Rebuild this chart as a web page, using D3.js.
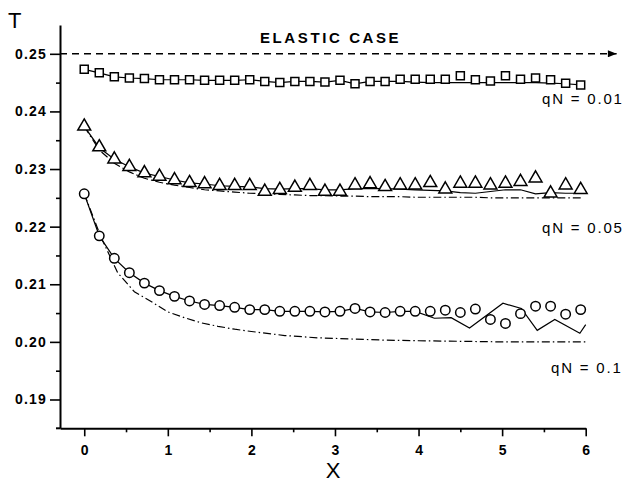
<!DOCTYPE html>
<html>
<head>
<meta charset="utf-8">
<script src="https://cdn.jsdelivr.net/npm/d3@7"></script>
<style>
  body { margin: 0; background: #fff; }
  text { font-family: "Liberation Sans", Arial, sans-serif; fill: #000; }
</style>
</head>
<body>
<div id="grafico"></div>
<script>
// x positions of the markers
const puntosX = [0, 0.18, 0.36, 0.54, 0.72, 0.90, 1.08, 1.26, 1.44, 1.62, 1.80, 1.98, 2.16, 2.34, 2.52, 2.70, 2.88,
    3.06, 3.24, 3.42, 3.60, 3.78, 3.96, 4.14, 4.32, 4.50, 4.68, 4.86, 5.04, 5.22, 5.40, 5.58, 5.76, 5.94];

// qN = 0.01 (squares)
const cuadrados = [0.2473, 0.2467, 0.2460, 0.2458, 0.2457, 0.2455, 0.2455, 0.2455, 0.2454, 0.2454, 0.2454,
    0.2455, 0.2452, 0.2450, 0.2452, 0.2452, 0.2451, 0.2454, 0.2448, 0.2452, 0.2452, 0.2456, 0.2456,
    0.2456, 0.2456, 0.2462, 0.2455, 0.2453, 0.2462, 0.2456, 0.2458, 0.2455, 0.2449, 0.2446];
const lineaCuadrados = [0.2473, 0.2467, 0.2460, 0.2458, 0.2457, 0.2455, 0.2455, 0.2455, 0.2454, 0.2454, 0.2454,
    0.2455, 0.2452, 0.2450, 0.2452, 0.2452, 0.2451, 0.2454, 0.2448, 0.2452, 0.2452, 0.2452, 0.2451,
    0.2450, 0.2450, 0.2450, 0.2450, 0.2450, 0.2450, 0.2450, 0.2450, 0.2449, 0.2448, 0.2446];

// qN = 0.05 (triangles)
const triangulos = [0.2374, 0.2338, 0.2317, 0.2304, 0.2293, 0.2287, 0.2281, 0.2276, 0.2274, 0.2271, 0.2271,
    0.2271, 0.2261, 0.2264, 0.2268, 0.2271, 0.2261, 0.2261, 0.2272, 0.2274, 0.2269, 0.2272, 0.2272,
    0.2276, 0.2265, 0.2275, 0.2275, 0.2272, 0.2275, 0.2278, 0.2284, 0.2258, 0.2272, 0.2264];
const lineaTriangulos = [0.2374, 0.2337, 0.2317, 0.2304, 0.2293, 0.2287, 0.2281, 0.2276, 0.2274, 0.2271, 0.2270,
    0.2269, 0.2266, 0.2265, 0.2266, 0.2266, 0.2264, 0.2264, 0.2266, 0.2266, 0.2266, 0.2265, 0.2264,
    0.2263, 0.2262, 0.2259, 0.2258, 0.2261, 0.2264, 0.2264, 0.2257, 0.2259, 0.2258, 0.2258];
const teoriaTriangulos = [0.2374, 0.2333, 0.2310, 0.2295, 0.2284, 0.2277, 0.2272, 0.2268, 0.2264, 0.2262, 0.2260,
    0.2258, 0.2257, 0.2256, 0.2255, 0.2254, 0.2254, 0.2253, 0.2253, 0.2252, 0.2252, 0.2252, 0.2251,
    0.2251, 0.2251, 0.2251, 0.2251, 0.2250, 0.2250, 0.2250, 0.2250, 0.2250, 0.2250, 0.2250];

// qN = 0.1 (circles)
const circulos = [0.2257, 0.2184, 0.2145, 0.2120, 0.2102, 0.2089, 0.2079, 0.2071, 0.2065, 0.2063, 0.2060,
    0.2056, 0.2056, 0.2053, 0.2053, 0.2053, 0.2052, 0.2053, 0.2058, 0.2052, 0.2051, 0.2053, 0.2053,
    0.2053, 0.2055, 0.2051, 0.2057, 0.2039, 0.2032, 0.2049, 0.2062, 0.2062, 0.2048, 0.2056];
const lineaCirculosX = [0, 0.18, 0.36, 0.54, 0.72, 0.90, 1.08, 1.26, 1.44, 1.62, 1.80, 1.98, 2.16, 2.34, 2.52,
    2.70, 2.88, 3.06, 3.24, 3.42, 3.60, 3.78, 3.96, 4.19, 4.39, 4.61, 5.01, 5.23, 5.42, 5.63, 5.93, 6.00];
const lineaCirculos = [0.2257, 0.2184, 0.2145, 0.2120, 0.2102, 0.2089, 0.2079, 0.2071, 0.2065, 0.2063, 0.2060,
    0.2056, 0.2056, 0.2053, 0.2053, 0.2053, 0.2052, 0.2053, 0.2058, 0.2052, 0.2051, 0.2053, 0.2053,
    0.2041, 0.2042, 0.2024, 0.2067, 0.2058, 0.2020, 0.2039, 0.2015, 0.2030];
const teoriaCirculosX = [0, 0.2, 0.4, 0.6, 0.8, 1.0, 1.2, 1.4, 1.6, 1.8, 2.0, 2.4, 2.8, 3.2, 3.6, 4.0, 4.5, 5.0, 5.5, 6.0];
const teoriaCirculos = [0.2257, 0.2182, 0.2120, 0.2087, 0.2070, 0.2052, 0.2042, 0.2033, 0.2027, 0.2022, 0.2018,
    0.2011, 0.2007, 0.2005, 0.2003, 0.2002, 0.2001, 0.2000, 0.2000, 0.2000];

const elastico = 0.25;
const ticksX = [0, 1, 2, 3, 4, 5, 6];
const ticksXmenor = [0.5, 1.5, 2.5, 3.5, 4.5, 5.5];
const ticksY = [0.19, 0.20, 0.21, 0.22, 0.23, 0.24, 0.25];
const ticksYmenor = [0.195, 0.205, 0.215, 0.225, 0.235, 0.245];

function crearGrafico() {
    const x = d3.scaleLinear().domain([-0.29, 6]).range([60, 585.7]);
    const y = d3.scaleLinear().domain([0.185, 0.255]).range([428.3, 25]);

    const svg = d3.select("#grafico")
        .append("svg")
        .attr("width", 631)
        .attr("height", 489);

    svg.append("defs").append("marker")
        .attr("id", "flecha")
        .attr("viewBox", "0 0 10 8")
        .attr("refX", 10).attr("refY", 4)
        .attr("markerWidth", 10).attr("markerHeight", 7)
        .attr("markerUnits", "userSpaceOnUse")
        .attr("orient", "auto")
        .append("path")
        .attr("d", "M0,0L10,4L0,8Z")
        .attr("fill", "#000");

    // axes
    const ejeY = svg.append("g").attr("transform", "translate(60,0)");
    ejeY.call(d3.axisLeft(y).tickValues(ticksY).tickSize(10).tickSizeOuter(0).tickFormat(d3.format(".2f")));
    ejeY.append("g").call(d3.axisLeft(y).tickValues(ticksYmenor).tickSize(4).tickFormat(""))
        .select(".domain").remove();

    const ejeX = svg.append("g").attr("transform", "translate(0,428.3)");
    ejeX.call(d3.axisBottom(x).tickValues(ticksX).tickSize(8).tickSizeOuter(0).tickPadding(9)
        .tickFormat(d3.format("d")));
    ejeX.append("g").call(d3.axisBottom(x).tickValues(ticksXmenor).tickSize(4).tickFormat(""))
        .select(".domain").remove();
    ejeX.append("line").attr("x1", 56).attr("x2", 60).attr("stroke", "#000").attr("stroke-width", 2);

    svg.selectAll(".domain").attr("stroke-width", 2);
    svg.selectAll(".tick line").attr("stroke-width", 1.6);
    ejeY.selectAll(".tick text")
        .attr("x", -13)
        .style("font-size", "14px").style("font-weight", "bold").style("letter-spacing", "1.2px");
    ejeX.selectAll(".tick text")
        .style("font-size", "14px").style("font-weight", "bold");

    svg.append("text").attr("x", 8).attr("y", 28).text("T").style("font-size", "22px");
    svg.append("text").attr("x", 333).attr("y", 478).attr("text-anchor", "middle")
        .text("X").style("font-size", "22px");

    // elastic case
    svg.append("line")
        .attr("x1", x(-0.29)).attr("x2", x(6.37))
        .attr("y1", y(elastico)).attr("y2", y(elastico))
        .attr("stroke", "#000").attr("stroke-width", 1.4)
        .attr("stroke-dasharray", "7,5")
        .attr("marker-end", "url(#flecha)");
    svg.append("text").attr("x", 260).attr("y", 43).text("ELASTIC CASE")
        .style("font-size", "15px").style("font-weight", "bold").style("letter-spacing", "2.6px");

    const etiquetas = [["qN = 0.01", 542, 104], ["qN = 0.05", 542, 233], ["qN = 0.1", 551, 373]];
    svg.selectAll(".etiqueta").data(etiquetas).enter().append("text")
        .attr("class", "etiqueta")
        .attr("x", d => d[1]).attr("y", d => d[2])
        .text(d => d[0])
        .style("font-size", "15px").style("letter-spacing", "1.8px");

    const linea = d3.line().x(d => x(d[0])).y(d => y(d[1]));
    const dibujarLinea = (xs, ys, dash) => svg.append("path")
        .datum(xs.map((v, i) => [v, ys[i]]))
        .attr("d", linea)
        .attr("fill", "none")
        .attr("stroke", "#000")
        .attr("stroke-width", 1.2)
        .attr("stroke-dasharray", dash);

    dibujarLinea(puntosX, teoriaTriangulos, "8,3,1.5,3");
    dibujarLinea(teoriaCirculosX, teoriaCirculos, "8,3,1.5,3");
    dibujarLinea(puntosX, lineaCuadrados, null);
    dibujarLinea(puntosX, lineaTriangulos, null);
    dibujarLinea(lineaCirculosX, lineaCirculos, null);

    const marcas = (serie, forma, tam) => svg.append("g").selectAll("path")
        .data(puntosX.map((v, i) => [v, serie[i]]))
        .enter().append("path")
        .attr("transform", d => `translate(${x(d[0])},${y(d[1])})`)
        .attr("d", d3.symbol().type(forma).size(tam))
        .attr("fill", "#fff")
        .attr("stroke", "#000")
        .attr("stroke-width", 1.5);

    marcas(cuadrados, d3.symbolSquare, 64);
    marcas(triangulos, d3.symbolTriangle, 72);
    marcas(circulos, d3.symbolCircle, 70);
}

crearGrafico();
</script>
</body>
</html>
